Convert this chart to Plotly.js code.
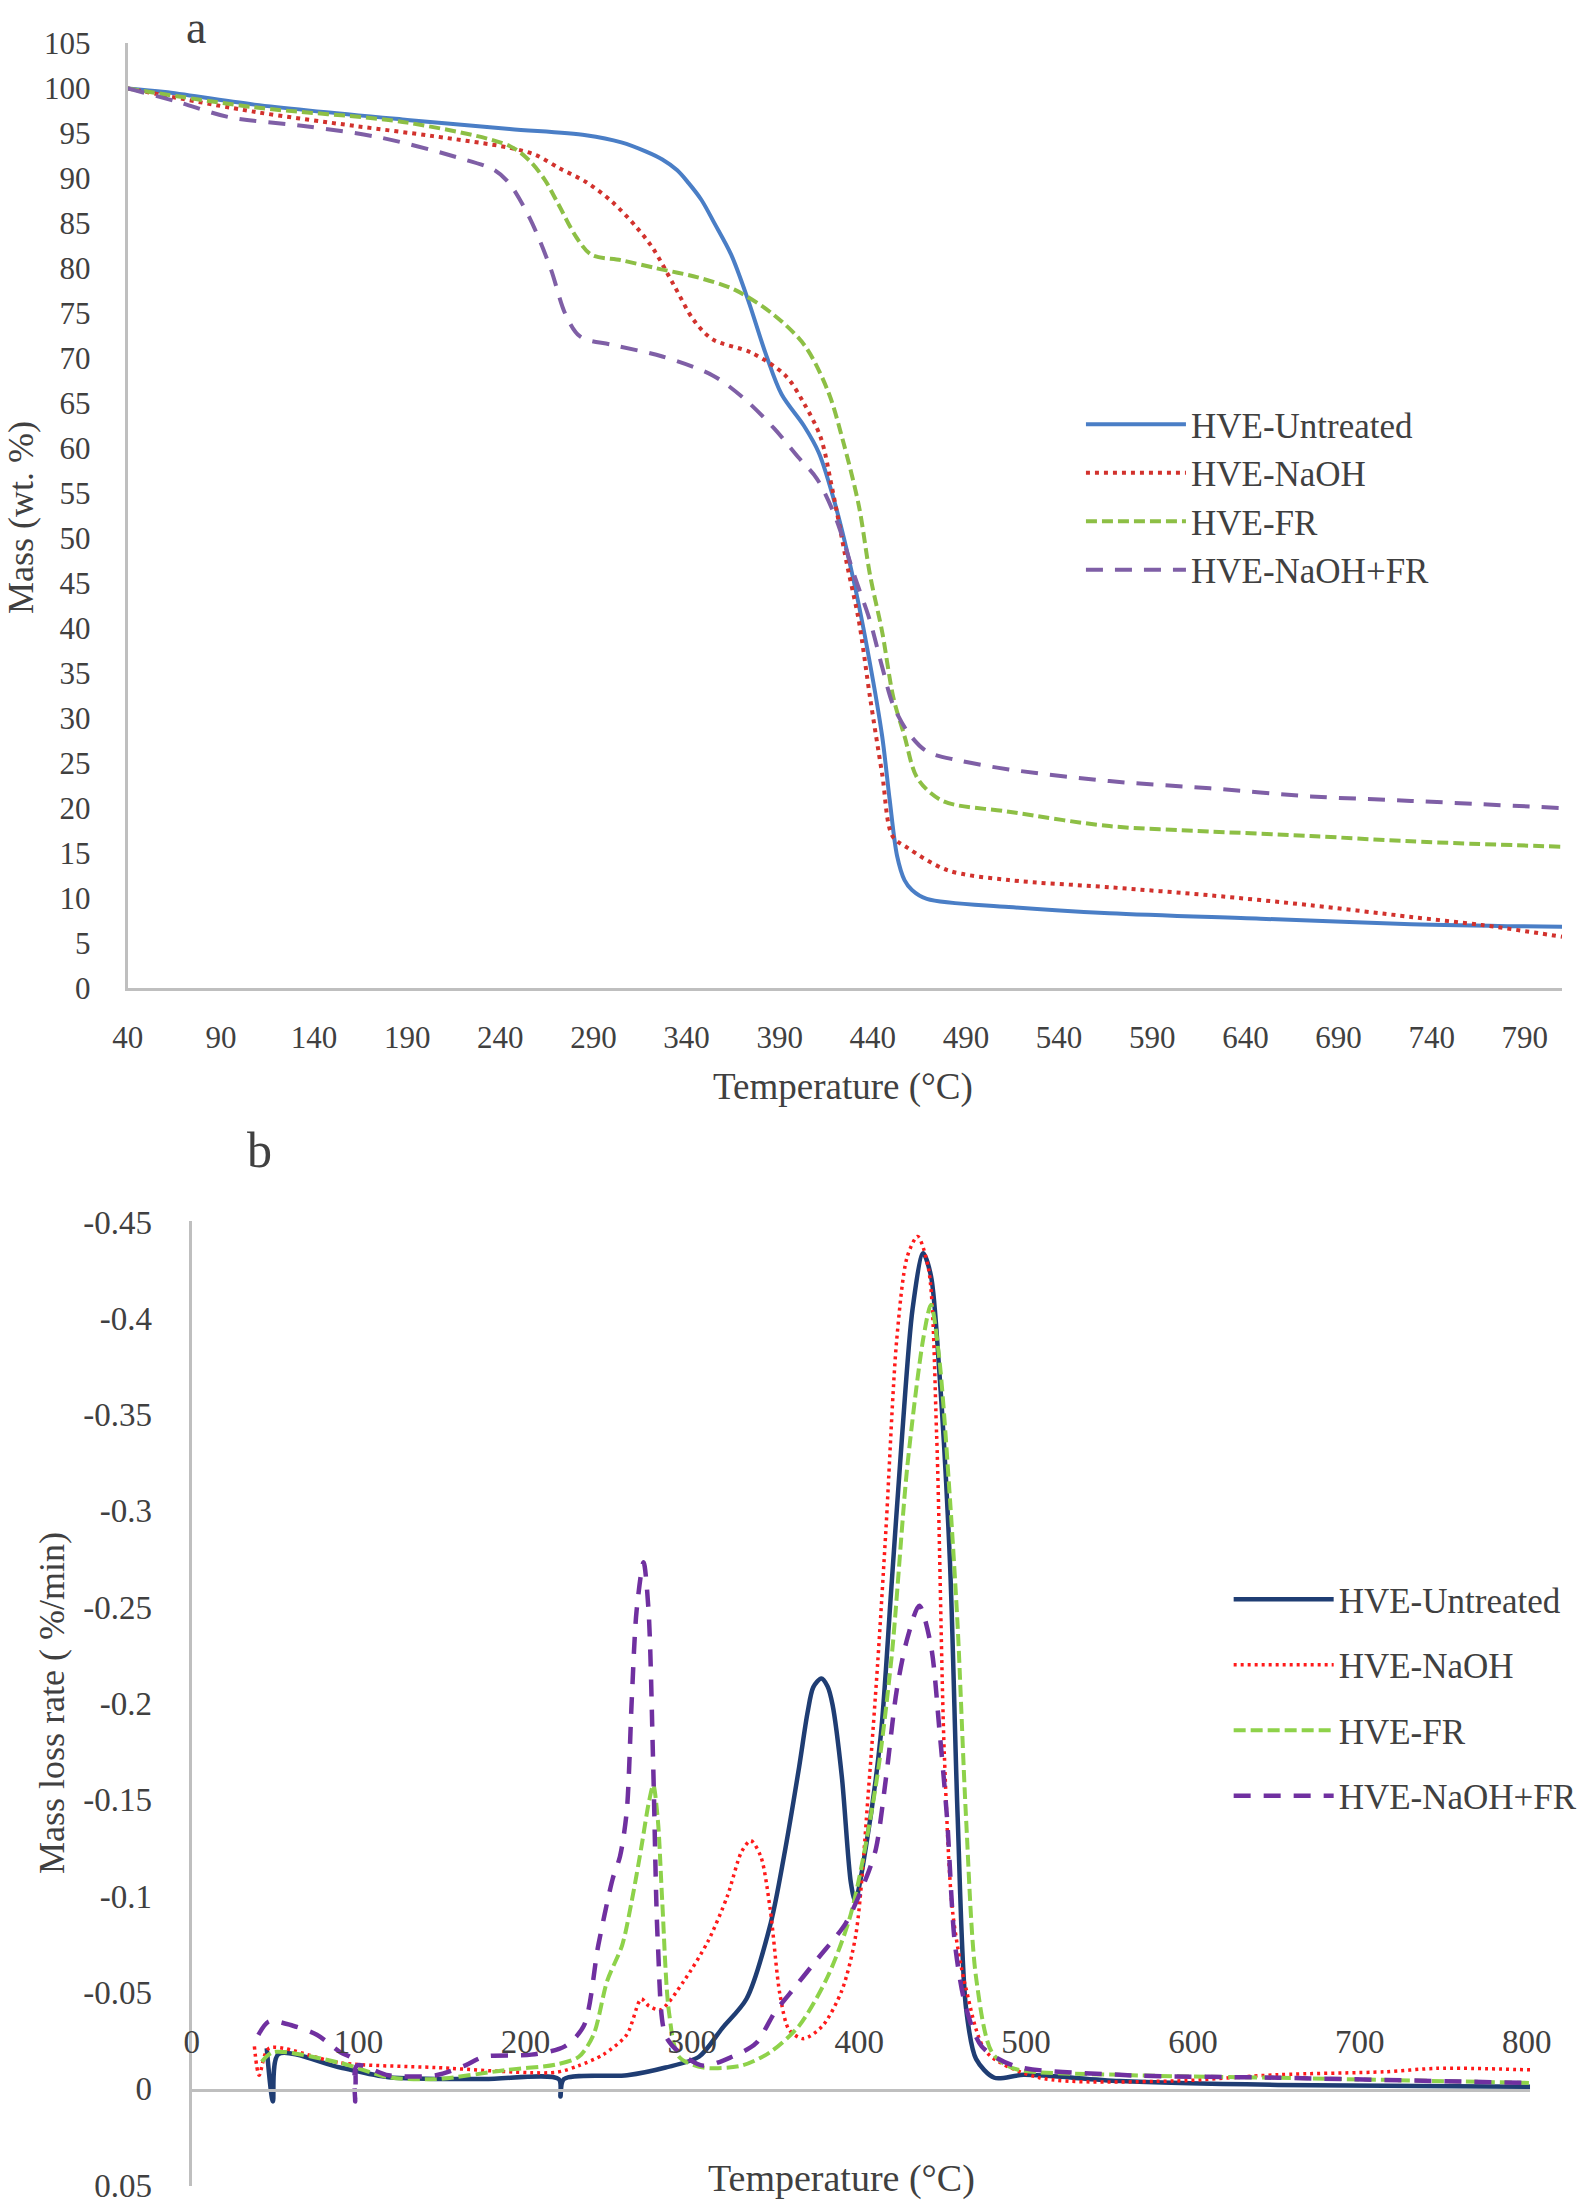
<!DOCTYPE html>
<html>
<head>
<meta charset="utf-8">
<script src="https://cdn.plot.ly/plotly-3.0.1.min.js"></script>
<style>
  html, body { margin: 0; padding: 0; background: #ffffff; }
  #chart { width: 1583px; height: 2203px; }
</style>
</head>
<body>
<div id="chart"></div>
<script>
// ---- panel a: TGA mass curves (temperature °C, mass wt.%) ----
const seriesNames = ["HVE-Untreated", "HVE-NaOH", "HVE-FR", "HVE-NaOH+FR"];

const tUntreatedA = [40, 60, 108, 190, 245, 286, 305, 318, 327, 335, 341, 348, 355, 364, 373, 383, 391, 403, 411, 420, 430, 438, 445, 449, 453, 457, 461, 469, 513, 567, 648, 729, 810];
const mUntreatedA = [100, 99.6, 98.2, 96.5, 95.5, 94.8, 94.0, 93.0, 92.1, 90.9, 89.5, 87.6, 85.0, 81.5, 76.5, 70.2, 66.0, 62.5, 59.5, 53.6, 45.0, 36.6, 28.0, 21.0, 14.7, 12.0, 10.9, 9.9, 9.0, 8.3, 7.7, 7.1, 6.8];

const tNaohA = [40, 108, 163, 204, 245, 259, 272, 286, 300, 313, 322, 333, 344, 354, 375, 393, 403, 412, 418, 426, 432.5, 438.5, 445, 450.5, 458.5, 480, 513, 567, 621, 675, 729, 767, 810];
const mNaohA = [100, 97.4, 95.8, 94.7, 93.4, 92.6, 91.1, 89.6, 87.4, 84.6, 82.2, 78.2, 74.2, 72.1, 70.6, 68.1, 65.0, 61.2, 55.7, 47.2, 40.8, 32.3, 23.8, 16.9, 15.6, 13.1, 12.0, 11.2, 10.3, 9.2, 7.9, 7.0, 5.7];

const tFrA = [40, 108, 190, 245, 256, 264, 271, 281, 289, 305, 324, 346, 366, 387, 403.5, 416, 424, 432.5, 438.5, 445, 451, 457, 464, 477.5, 513, 567, 621, 675, 729, 810];
const mFrA = [100, 97.9, 96.2, 93.6, 91.9, 89.8, 87.2, 83.4, 81.5, 80.9, 80.0, 79.0, 77.6, 74.8, 71.4, 66.3, 60.8, 53.6, 45.9, 39.6, 32.3, 28.0, 23.3, 20.8, 19.6, 18.0, 17.4, 16.9, 16.3, 15.7];

const tNaohFrA = [40, 67, 94.5, 135.5, 176.5, 217.5, 237, 245, 256, 267, 275, 283, 300, 327, 354, 371, 387, 400, 410, 420, 430, 438.5, 445, 451, 459, 469, 486, 513, 567, 621, 675, 729, 810];
const mNaohFrA = [100, 98.5, 96.8, 95.8, 94.5, 92.3, 90.9, 89.4, 85.5, 80.0, 74.9, 72.4, 71.5, 70.2, 68.1, 65.5, 62.2, 59.0, 56.6, 52.3, 45.9, 40.8, 35.7, 31.4, 28.4, 26.3, 25.3, 24.3, 23.0, 22.2, 21.3, 20.8, 20.0];

// ---- panel b: DTG mass loss rate (temperature °C, %/min) ----
const tUntreatedB = [45, 48.7, 52, 89, 118, 175, 220, 221, 223, 261, 284, 304, 318, 332.5, 347, 355, 364, 369, 372.5, 377.3, 381, 384, 389.6, 395, 397.6, 404, 413, 419, 425.7, 432, 438.3, 443, 448, 454.4, 459, 464, 470, 481, 498.6, 556, 651, 802];
const rUntreatedB = [-0.021, 0.0066, -0.018, -0.011, -0.006, -0.005, -0.005, 0.004, -0.005, -0.007, -0.011, -0.0166, -0.0315, -0.0467, -0.086, -0.121, -0.167, -0.195, -0.2085, -0.213, -0.209, -0.1995, -0.162, -0.107, -0.0975, -0.1254, -0.184, -0.2567, -0.339, -0.405, -0.4337, -0.422, -0.3725, -0.273, -0.141, -0.042, -0.0155, -0.0057, -0.0072, -0.004, -0.002, -0.001];

const tNaohB = [37.6, 40.5, 46.4, 89, 146.5, 218, 232, 246.6, 260.7, 269.4, 274, 281, 295, 309.5, 321, 329.5, 335, 341, 346.7, 352.5, 358, 366.5, 378, 389.6, 398, 406, 411, 416, 422.5, 428.8, 435, 441.6, 446.4, 451, 456, 464, 476.5, 508, 588, 651, 715, 746.5, 802];
const rNaohB = [-0.022, -0.007, -0.021, -0.0134, -0.011, -0.0085, -0.012, -0.0177, -0.028, -0.0466, -0.043, -0.041, -0.056, -0.0767, -0.1, -0.123, -0.1288, -0.1207, -0.093, -0.049, -0.0306, -0.026, -0.0326, -0.051, -0.08, -0.16, -0.22, -0.29, -0.389, -0.432, -0.4425, -0.4254, -0.3394, -0.174, -0.0917, -0.052, -0.0188, -0.0057, -0.004, -0.0073, -0.0088, -0.0106, -0.0098];

const tFrB = [42, 49, 89, 118, 146.5, 189, 218, 232, 240.8, 249, 258, 263.7, 269.4, 273.8, 276.6, 279.4, 282, 286, 292, 306.7, 329.5, 346.7, 364, 381, 395, 410, 419.4, 428.8, 438.3, 443, 448, 454.4, 459, 464, 470, 479.6, 492.4, 556, 651, 802];
const rFrB = [-0.014, -0.019, -0.0134, -0.006, -0.005, -0.0098, -0.0125, -0.0166, -0.028, -0.056, -0.0746, -0.0974, -0.125, -0.148, -0.1577, -0.139, -0.097, -0.04, -0.0166, -0.011, -0.012, -0.019, -0.0327, -0.058, -0.0907, -0.1575, -0.224, -0.3228, -0.389, -0.407, -0.379, -0.306, -0.24, -0.141, -0.058, -0.0188, -0.0106, -0.0072, -0.0057, -0.003];

const tNaohFrB = [40, 46.4, 60.7, 75, 89, 97, 98, 99, 118, 146.5, 163.7, 175, 203.6, 223.6, 235, 243.7, 252.3, 256.7, 260.7, 263.7, 266.6, 270.8, 273.8, 276.6, 279.4, 283.8, 292, 306.7, 323.8, 338, 349.6, 358, 375, 392, 404, 410, 416, 422.5, 428.8, 436, 443, 448, 452.6, 457.4, 464, 473.4, 492.4, 556, 651, 802];
const rNaohFrB = [-0.028, -0.035, -0.0327, -0.028, -0.019, -0.015, 0.0066, -0.012, -0.007, -0.007, -0.012, -0.0166, -0.0177, -0.022, -0.0327, -0.0746, -0.109, -0.1207, -0.1438, -0.2016, -0.248, -0.2733, -0.248, -0.1668, -0.0746, -0.028, -0.019, -0.012, -0.0166, -0.0235, -0.04, -0.049, -0.0674, -0.086, -0.109, -0.1245, -0.161, -0.207, -0.2337, -0.2508, -0.23, -0.187, -0.141, -0.075, -0.042, -0.022, -0.012, -0.0072, -0.0057, -0.003];

// tick labels
const rateTickVals = [-0.45, -0.4, -0.35, -0.3, -0.25, -0.2, -0.15, -0.1, -0.05, 0, 0.05];
const rateTickText = ["-0.45", "-0.4", "-0.35", "-0.3", "-0.25", "-0.2", "-0.15", "-0.1", "-0.05", "0", "0.05"];

(function () {
    const W = 1583, H = 2203;
    const FONT = "Liberation Serif, Times New Roman, serif";
    const C = {
        text: "#404040",
        axis: "#BFBFBF",
        a: ["#4A7EC6", "#D2322D", "#8DBF45", "#7F5FA6"],
        b: ["#1F3D73", "#FF1A1A", "#8ED24A", "#7030A0"]
    };

    // pixel helpers for domains
    const px = v => v / W;
    const py = v => 1 - v / H;

    const dashA = ["solid", "4px,5px", "11px,5px", "17px,12px"];
    const widthA = [4, 4, 4, 4];
    const dashB = ["solid", "3px,4px", "12px,5px", "17px,13px"];
    const widthB = [4.5, 3.5, 4, 4.5];

    const dataA = [[tUntreatedA, mUntreatedA], [tNaohA, mNaohA], [tFrA, mFrA], [tNaohFrA, mNaohFrA]];
    const dataB = [[tUntreatedB, rUntreatedB], [tNaohB, rNaohB], [tFrB, rFrB], [tNaohFrB, rNaohFrB]];

    const traces = [];
    dataA.forEach((d, i) => {
        traces.push({
            x: d[0], y: d[1], xaxis: "x", yaxis: "y",
            mode: "lines", name: seriesNames[i], legend: "legend",
            line: { color: C.a[i], width: widthA[i], dash: dashA[i], shape: "spline", smoothing: 0.9 },
            hoverinfo: "skip"
        });
    });
    dataB.forEach((d, i) => {
        traces.push({
            x: d[0], y: d[1], xaxis: "x2", yaxis: "y2",
            mode: "lines", name: seriesNames[i], legend: "legend2", legendgroup: "g" + i,
            line: { color: C.b[i], width: widthB[i], dash: dashB[i], shape: "spline", smoothing: 0.8 },
            hoverinfo: "skip"
        });
    });

    // y = 0 crossing of panel b in paper coords
    const yDomB = [py(2186), py(1221)];
    const zeroPos = yDomB[0] + (0.05 / 0.5) * (yDomB[1] - yDomB[0]);

    const axisBase = {
        showline: true, linecolor: C.axis, linewidth: 3,
        showgrid: false, zeroline: false, ticks: "",
        ticklabeloverflow: "allow",
        tickfont: { family: FONT, size: 31, color: C.text }
    };

    const note = (text, x, y, size, angle, yanchor) => ({
        text: text, x: x, y: y, xref: "paper", yref: "paper",
        xanchor: "center", yanchor: yanchor || "middle", showarrow: false,
        textangle: angle || 0,
        font: { family: FONT, size: size, color: C.text }
    });

    const layout = {
        width: W, height: H,
        margin: { l: 0, r: 0, t: 0, b: 0 },
        paper_bgcolor: "#ffffff",
        plot_bgcolor: "rgba(0,0,0,0)",
        font: { family: FONT, color: C.text },
        xaxis: Object.assign({}, axisBase, {
            domain: [px(128), px(1565)], range: [40, 810],
            tick0: 40, dtick: 50, anchor: "y", ticklabelstandoff: 20
        }),
        yaxis: Object.assign({}, axisBase, {
            domain: [py(988), py(43)], range: [0, 105.05],
            dtick: 5, anchor: "x", ticklabelstandoff: 28
        }),
        xaxis2: Object.assign({}, axisBase, {
            domain: [px(192), px(1533)], range: [0, 802],
            tick0: 0, dtick: 100, anchor: "free", position: zeroPos, side: "top",
            ticklabelstandoff: 22,
            tickfont: { family: FONT, size: 33, color: C.text }
        }),
        yaxis2: Object.assign({}, axisBase, {
            domain: yDomB, range: [0.0505, -0.4505],
            tickvals: rateTickVals, ticktext: rateTickText, anchor: "x2",
            ticklabelstandoff: 30,
            tickfont: { family: FONT, size: 33, color: C.text }
        }),
        legend: {
            x: px(1083), y: py(395), xanchor: "left", yanchor: "top",
            itemwidth: 100, bgcolor: "rgba(0,0,0,0)",
            font: { family: FONT, size: 35, color: C.text }
        },
        legend2: {
            x: px(1231), y: py(1570), xanchor: "left", yanchor: "top",
            itemwidth: 100, bgcolor: "rgba(0,0,0,0)", traceorder: "grouped", tracegroupgap: 17,
            font: { family: FONT, size: 35, color: C.text }
        },
        annotations: [
            note("a", px(196), 1, 46, 0, "top"),
            note("Temperature (°C)", px(845), py(1087), 37),
            note("Mass (wt. %)", px(21), py(517), 36, -90),
            note("b", px(260), py(1150), 50),
            note("Temperature (°C)", px(843), py(2178), 38),
            note("Mass loss rate ( %/min)", px(52), py(1703), 36, -90)
        ]
    };

    Plotly.newPlot("chart", traces, layout, { displayModeBar: false, responsive: false });
})();
</script>
</body>
</html>
